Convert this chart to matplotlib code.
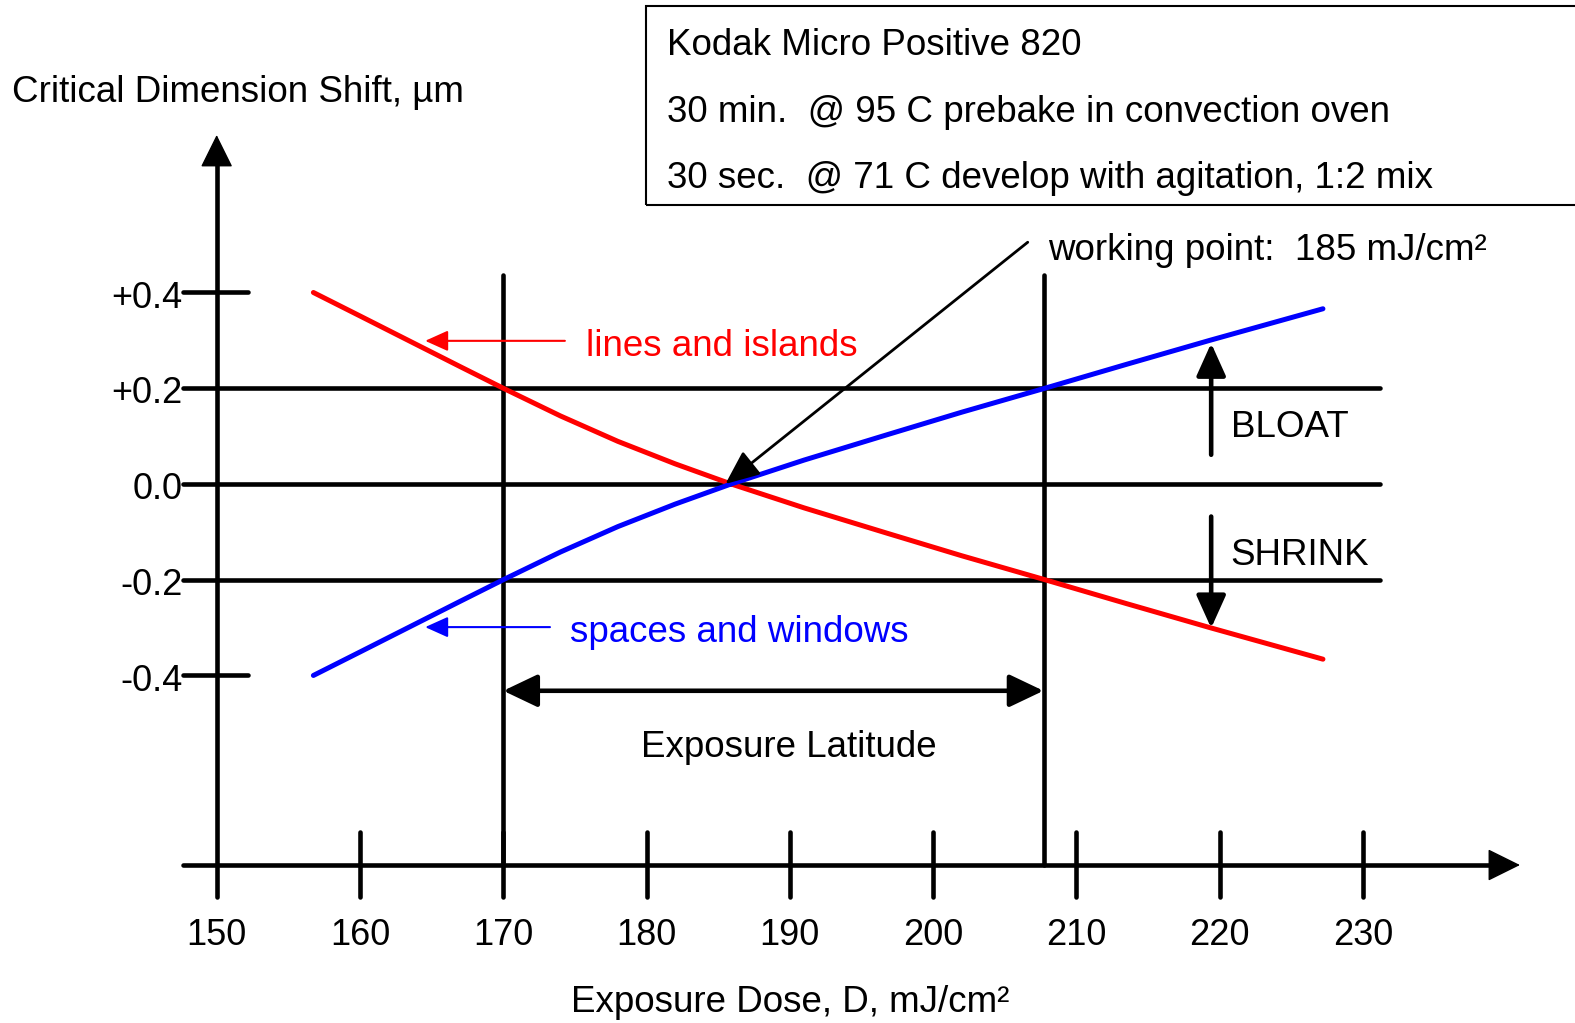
import matplotlib
matplotlib.use('Agg')
import matplotlib.pyplot as plt
from matplotlib.patches import Rectangle

plt.rcParams['font.family'] = ['Liberation Sans', 'DejaVu Sans']

# values
dose = [156.75, 160.0, 163.5, 167.0, 170.0, 174.0, 178.0, 182.0, 185.9,
        191.0, 196.8, 202.0, 207.8, 213.5, 219.3, 227.2]
lines_islands = [0.400, 0.351, 0.298, 0.245, 0.200, 0.142, 0.089, 0.042, 0.0,
                 -0.050, -0.103, -0.150, -0.200, -0.250, -0.300, -0.366]
spaces_windows = [-0.400, -0.351, -0.298, -0.245, -0.200, -0.142, -0.089, -0.042, 0.0,
                  0.050, 0.103, 0.150, 0.200, 0.250, 0.300, 0.366]

x_ticks = [150, 160, 170, 180, 190, 200, 210, 220, 230]
y_ticks = [0.4, 0.2, 0.0, -0.2, -0.4]
y_tick_labels = ['+0.4', '+0.2', '0.0', '-0.2', '-0.4']

latitude = [170.0, 207.7]
working_point = 185.5

box_lines = ['Kodak Micro Positive 820',
             '30 min.  @ 95 C prebake in convection oven',
             '30 sec.  @ 71 C develop with agitation, 1:2 mix']

fig = plt.figure(figsize=(15.75, 10.23), dpi=100)
ax = fig.add_axes([0, 0, 1, 1])
ax.set_xlim(134.88, 244.79)
ax.set_ylim(-1.126, 1.011)
ax.axis('off')

fs = 26.5
fs_tick = 26
dy = -0.012  # nudge text down to line up with the reference
lw_k = 3.3
black = dict(color='k', lw=lw_k, solid_capstyle='round')

# axes
ax.plot([150, 150], [-0.863, 0.68], **black)
ax.annotate('', xy=(150, 0.729), xytext=(150, 0.66),
            arrowprops=dict(arrowstyle='-|>,head_length=1.05,head_width=0.52',
                            mutation_scale=20, lw=1, color='k',
                            shrinkA=0, shrinkB=0))
ax.plot([147.65, 239.0], [-0.796, -0.796], **black)
ax.annotate('', xy=(240.95, -0.796), xytext=(238.5, -0.796),
            arrowprops=dict(arrowstyle='-|>,head_length=1.05,head_width=0.52',
                            mutation_scale=20, lw=1, color='k',
                            shrinkA=0, shrinkB=0))

# x ticks and labels
for xt in x_ticks:
    if xt != 150:
        ax.plot([xt, xt], [-0.727, -0.863], **black)
    ax.text(xt, -0.932 + dy, str(xt), fontsize=fs_tick, ha='center', va='center')

# y ticks, grid lines and labels
for yt, lab in zip(y_ticks, y_tick_labels):
    x_end = 231.2 if abs(yt) < 0.3 else 152.2
    ax.plot([147.65, x_end], [yt, yt], **black)
    ax.text(147.6, yt + dy, lab, fontsize=fs_tick, ha='right', va='center')

# exposure latitude verticals
for xv in latitude:
    ax.plot([xv, xv], [0.437, -0.796], **black)

# curves
ax.plot(dose, lines_islands, color='#FF0000', lw=3.6, solid_capstyle='round')
ax.plot(dose, spaces_windows, color='#0000FF', lw=3.6, solid_capstyle='round')

# exposure latitude double arrow
ax.annotate('', xy=(latitude[1], -0.432), xytext=(latitude[0], -0.432),
            arrowprops=dict(arrowstyle='<|-|>,head_length=1.05,head_width=0.5',
                            mutation_scale=20, lw=lw_k, color='k',
                            shrinkA=0, shrinkB=0))
ax.text(189.9, -0.539 + dy, 'Exposure Latitude', fontsize=fs, ha='center', va='center')

# curve labels
ax.annotate('', xy=(164.55, 0.299), xytext=(174.3, 0.299),
            arrowprops=dict(arrowstyle='-|>,head_length=1.0,head_width=0.45',
                            mutation_scale=14, lw=1.5, color='#FF0000',
                            shrinkA=0, shrinkB=0))
ax.text(175.8, 0.299 + dy, 'lines and islands', fontsize=fs, color='#FF0000',
        ha='left', va='center')
ax.annotate('', xy=(164.55, -0.299), xytext=(173.26, -0.299),
            arrowprops=dict(arrowstyle='-|>,head_length=1.0,head_width=0.45',
                            mutation_scale=14, lw=1.5, color='#0000FF',
                            shrinkA=0, shrinkB=0))
ax.text(174.66, -0.299 + dy, 'spaces and windows', fontsize=fs, color='#0000FF',
        ha='left', va='center')

# bloat / shrink
ax.annotate('', xy=(219.4, 0.294), xytext=(219.4, 0.061),
            arrowprops=dict(arrowstyle='-|>,head_length=1.0,head_width=0.45',
                            mutation_scale=20, lw=lw_k, color='k',
                            shrinkA=0, shrinkB=0))
ax.text(220.76, 0.13 + dy, 'BLOAT', fontsize=fs, ha='left', va='center')
ax.annotate('', xy=(219.4, -0.301), xytext=(219.4, -0.068),
            arrowprops=dict(arrowstyle='-|>,head_length=1.0,head_width=0.45',
                            mutation_scale=20, lw=lw_k, color='k',
                            shrinkA=0, shrinkB=0))
ax.text(220.76, -0.138 + dy, 'SHRINK', fontsize=fs, ha='left', va='center')

# working point
ax.annotate('', xy=(working_point, 0.0), xytext=(206.6, 0.505),
            arrowprops=dict(arrowstyle='-|>,head_length=1.05,head_width=0.45',
                            mutation_scale=20, lw=2, color='k',
                            shrinkA=0, shrinkB=0))
ax.text(208.0, 0.499 + dy, 'working point:  185 mJ/cm²', fontsize=fs,
        ha='left', va='center')

# axis titles
ax.text(135.72, 0.829 + dy, 'Critical Dimension Shift, µm', fontsize=fs,
        ha='left', va='center')
ax.text(190.0, -1.072 + dy, 'Exposure Dose, D, mJ/cm²', fontsize=fs,
        ha='center', va='center')

# info box
ax.add_patch(Rectangle((179.96, 0.583), 70, 0.415, fill=False,
                       edgecolor='k', lw=1.5, clip_on=True))
for yb, line in zip([0.927, 0.788, 0.650], box_lines):
    ax.text(181.43, yb + dy, line, fontsize=fs, ha='left', va='center')

fig.savefig('out.png', dpi=100)
